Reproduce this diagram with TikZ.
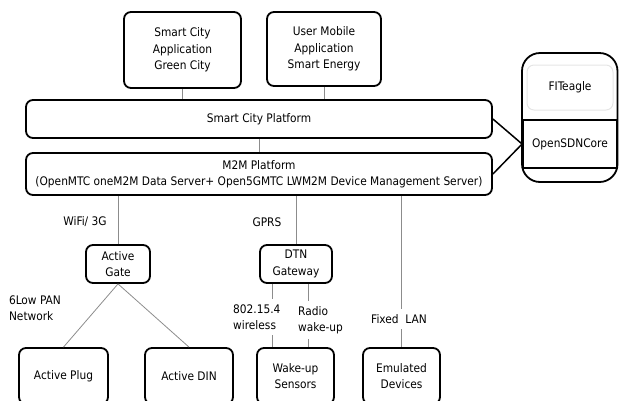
\documentclass[tikz,border=0pt]{standalone}
\usepackage{fontspec}
\setmainfont{DejaVu Sans Condensed}
\usetikzlibrary{positioning,calc}
\begin{document}
\begin{tikzpicture}[x=1pt,y=-1pt,
  every node/.style={font=\fontsize{11.8}{16.5}\selectfont, align=center},
  box/.style={draw, line width=1.8pt, rounded corners=7pt, inner sep=2pt},
  link/.style={draw=black!45, line width=0.8pt},
  lbl/.style={fill=white, inner xsep=2pt, inner ysep=5pt}]
\useasboundingbox (0,0) rectangle (619,400);
\clip (0,0) rectangle (619,400);
% applications and platforms
\node[box, minimum width=117pt, minimum height=76pt] (scapp) at (182.5,50) {Smart City\\Application\\Green City};
\node[box, minimum width=114pt, minimum height=74pt] (mobile) at (324,49) {User Mobile\\Application\\Smart Energy};
\node[box, minimum width=466pt, minimum height=38pt] (scp) at (259,119) {Smart City Platform};
\node[box, minimum width=466pt, minimum height=42pt, font=\fontsize{11.8}{15.5}\selectfont] (m2m) at (259,174) {M2M Platform\\(OpenMTC oneM2M Data Server+ Open5GMTC LWM2M Device Management Server)};
% testbed
\node[box, rounded corners=18pt, minimum width=95.5pt, minimum height=129pt] (testbed) at (569.75,117.5) {};
\node[draw=black!10, line width=1pt, rounded corners=7pt, minimum width=86pt, minimum height=45pt] (fiteagle) at (570,87.5) {FITeagle};
\node[draw, line width=1.8pt, minimum width=94pt, minimum height=48pt] (sdn) at (570,144) {OpenSDNCore};
% gateways and devices
\node[box, minimum width=64pt, minimum height=38pt] (agate) at (118,264) {Active\\Gate};
\node[box, minimum width=72pt, minimum height=38pt] (dtn) at (296,264) {DTN\\Gateway};
\node[box, minimum width=89pt, minimum height=56pt] (plug) at (63.5,376) {Active Plug};
\node[box, minimum width=88pt, minimum height=56pt] (din) at (189,376) {Active DIN};
\node[box, minimum width=77pt, minimum height=56pt, font=\fontsize{11.8}{15.5}\selectfont] (sensors) at (295.5,376) {Wake-up\\Sensors};
\node[box, minimum width=77pt, minimum height=56pt, font=\fontsize{11.8}{15.5}\selectfont] (emulated) at (401.5,376) {Emulated\\Devices};
% connectors
\draw[link] (scapp.south) -- (scapp.south |- scp.north);
\draw[link] (mobile.south) -- (mobile.south |- scp.north);
\draw[link] (scp) -- (m2m);
\draw[link] (agate.north |- m2m.south) -- (agate.north);
\draw[link] (dtn.north |- m2m.south) -- (dtn.north);
\draw[link] (emulated.north |- m2m.south) -- (emulated.north);
\draw[link] (agate.south) -- (plug.north);
\draw[link] (agate.south) -- (din.north);
\draw[link] ($(dtn.south)+(-24,0)$) -- ($(sensors.north)+(-23.5,0)$);
\draw[link] ($(dtn.south)+(12,0)$) -- ($(sensors.north)+(12.5,0)$);
\draw[line width=1.5pt] (scp.east) -- (sdn.west);
\draw[line width=1.5pt] (m2m.east) -- (sdn.west);
% labels
\node (wifi) at (85,222) {WiFi/ 3G};
\node (gprs) at (267,222) {GPRS};
\node[align=left, anchor=west] (lowpan) at (5.5,308) {6Low PAN\\Network};
\node[lbl, align=left, anchor=west] (zigbee) at (231,317) {802.15.4\\wireless};
\node[lbl, align=left, anchor=west] (radio) at (296,320) {Radio\\wake-up};
\node[lbl] (lan) at (399,319) {Fixed\ \ LAN};
\end{tikzpicture}
\end{document}
